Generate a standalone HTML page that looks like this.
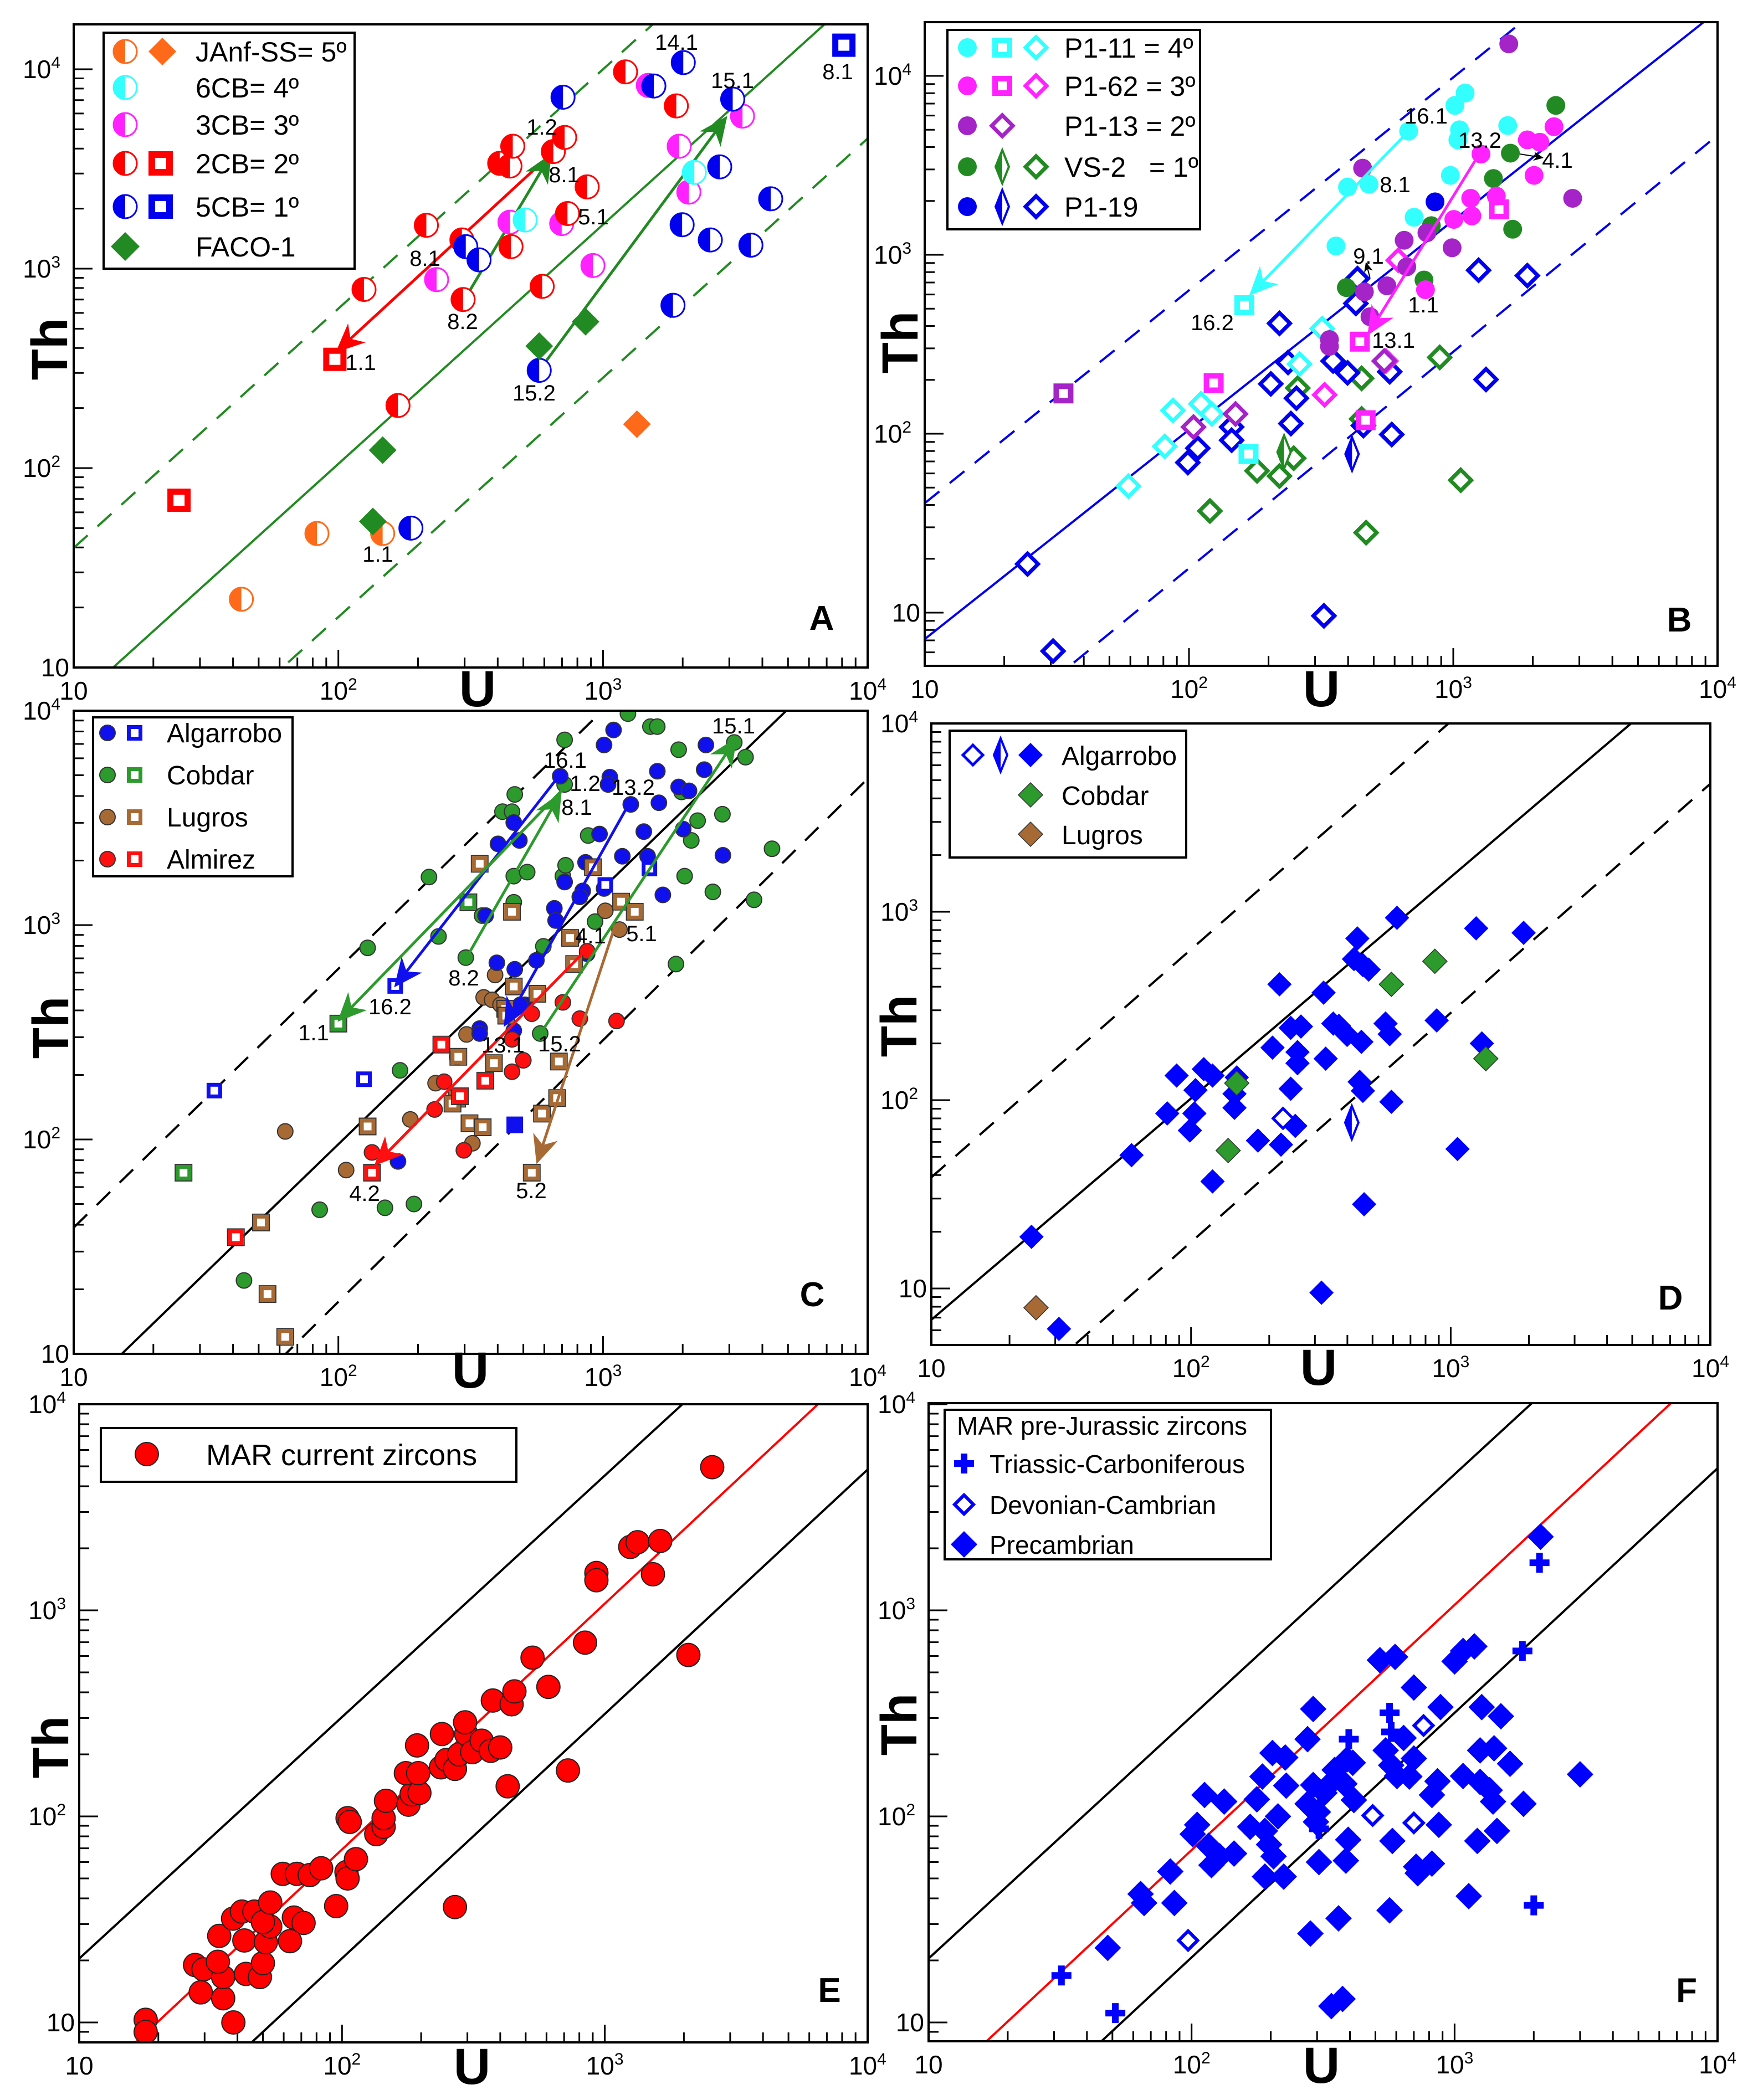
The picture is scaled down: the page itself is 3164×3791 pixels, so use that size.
<!DOCTYPE html>
<html><head><meta charset="utf-8"><style>
html,body{margin:0;padding:0;background:#fff}
svg{display:block}
text{font-family:"Liberation Sans",Arial,sans-serif}
</style></head><body>
<svg id="fig" xmlns="http://www.w3.org/2000/svg" width="3164" height="3791" viewBox="0 0 3164 3791">
<rect x="0" y="0" width="3164" height="3791" fill="#fff"/>
<defs id="defs"></defs>
</svg>
<script>
// ---------- Panel A data ----------
const aOrgHalfU=[83,147,43]; const aOrgHalfTh=[47,47,22];
const aOrgDiaU=[1343]; const aOrgDiaTh=[166];
const aCyanU=[508,2213]; const aCyanTh=[1754,3040];
const aMagU=[235,445,698,916,1483,1940,2110,3365]; const aMagTh=[881,1710,1683,1037,8300,4110,2420,5820];
const aRedU=[125,215,293,296,407,445,456,449,589,649,716,871,734,168,1216,1892];
const aRedTh=[787,1650,1393,700,3375,3270,4110,1290,815,3866,4550,2570,1890,206,9700,6550];
const aRedSqU=[97,25]; const aRedSqTh=[351,69];
const aBlueU=[706,2010,1556,3090,2760,1990,2543,3620,4300,1838,303,340,574,188];
const aBlueTh=[7240,10800,8240,7080,3240,1660,1393,1312,2240,655,1290,1107,309,50];
const aBlueSqU=[8130]; const aBlueSqTh=[13200];
const aFacoU=[574,859,147,135]; const aFacoTh=[409,542,123,54];
const aLineC=[2.51,0.418,0.0713]; const aLineK=[1.2,1.2,1.2];
const aArrFromU=[665,296,574]; const aArrFromTh=[3963,682,309];
const aArrToU=[99.5,631,2904]; const aArrToTh=[389,3673,5675];
// ---------- Panel B data ----------
const bCyanCU=[678,398,480,360,711,975,1014,1109,1056,1041,1607]; const bCyanCTh=[4910,2390,2480,1120,1622,2780,6840,8020,5000,4390,5280];
const bCyanSqU=[162,168]; const bCyanSqTh=[523,77];
const bCyanDU=[59,81,87,111,122,262,319]; const bCyanDTh=[51,85,135,147,129,245,387];
const bMagCU=[1164,1176,1005,1273,1455,1907,2126,2405,2022,785]; const bMagCTh=[2070,1650,1577,3656,2130,4390,4260,5200,2780,638];
const bMagSqU=[443,124,1490,466]; const bMagSqTh=[327,192,1795,119];
const bMagDU=[326,556,619]; const bMagDTh=[165,255,933];
const bPurCU=[1622,454,2830,990,795,652,667,561,461,484,340,340]; const bPurCTh=[15100,3050,2070,1095,1328,1206,857,671,621,451,336,308];
const bPurSqU=[33.5]; const bPurSqTh=[168];
const bPurDU=[104,150,548]; const bPurDTh=[109,129,255];
const bGrnCU=[2444,1645,1419,1678,826,775,394]; const bGrnCTh=[6840,3700,2670,1390,1455,723,656];
const bGrnThinU=[229]; const bGrnThinTh=[79];
const bGrnDU=[889,450,258,450,249,220,181,120,468,1067]; const bGrnDTh=[267,204,180,121,73,58,62,37,28,55];
const bBlueCU=[853]; const bBlueCTh=[1977];
const bBlueThinU=[414]; const bBlueThinTh=[77];
const bBlueDU=[24.5,30.6,324,220,434,428,1247,1907,1330,575,457,585,351,398,237,255,204,243,145,145,108,99];
const bBlueDTh=[18.7,6.1,9.6,414,736,535,820,765,201,222,111,99,255,219,250,158,190,114,109,92,83,69];
const bLineC=[2.64,0.481,0.0673]; const bLineK=[1.19,1.17,1.21];
const bArrFromU=[678,1268,484,1791]; const bArrFromTh=[4910,3758,745,3656];
const bArrToU=[172,480,468,2178]; const bArrToTh=[607,366,900,3490];
// ---------- Panel C data ----------
const cBlueCU=[689,1096,1009,1061,1045,1273,1604,1626,2411,2448,1931,2113,1426,1183,1474,970,859,2010,2838,1683,1009,838,817,716,655,662,871,771,483,460,401,360,560,464,397,507,487,342,342,460,168];
const cBlueCTh=[4950,8130,6920,4900,4530,3656,5220,3720,5310,6920,4410,4230,2729,2094,2094,2660,1962,2804,2117,1383,1482,1443,1354,1588,1197,1050,735,871,2483,3008,2393,1107,685,622,667,425,425,329,312,322,79];
const cBlueSqU=[164,34,125,1497,1020]; const cBlueSqTh=[520,169,191,1835,1539];
const cBlueFSqU=[464]; const cBlueFSqTh=[117];
const cGrnCU=[1242,1510,1603,716,1931,3133,3455,716,464,417,453,1981,2826,2277,2155,879,4350,220,460,517,705,722,2034,2600,3720,310,460,349,933,595,239,129,303,1886,579,171,85,150,193,44];
const cGrnCTh=[9690,8430,8430,7310,6580,7110,6070,4530,4070,3380,3380,4180,3290,3070,2483,2618,2270,1675,1692,1766,1692,1901,1692,1429,1312,1277,1277,1107,1038,796,885,783,705,658,312,210,47,48,50,22];
const cGrnSqU=[100,310,26]; const cGrnSqTh=[347,1277,70];
const cBrnCU=[391,354,381,410,305,281,233,187,321,63,107,1020,1154];
const cBrnCTh=[585,460,448,425,309,243,183,124,96,109,72,1166,953];
const cBrnSqU=[342,453,916,1170,1318,751,778,460,565,427,431,284,387,681,281,270,313,351,588,671,129,51,54,63,538];
const cBrnSqTh=[1932,1154,1862,1286,1154,871,658,517,478,407,378,243,227,231,155,147,119,114,132,156,115,41,19,12,70];
const cRedCU=[871,705,817,1125,500,453,453,538,251,231,298,134];
const cRedCTh=[755,436,366,357,234,207,293,386,186,138,89,87];
const cRedSqU=[245,359,288,134,41]; const cRedSqTh=[277,188,159,70,35];
const cLineC=[2.41,0.387,0.0635]; const cLineK=[1.207,1.195,1.22];
const cArrFromU=[671,705,305,1259,594,859,1096]; const cArrFromTh=[4842,4295,705,3715,326,762,944];
const cArrToU=[165,101,689,427,3162,139,565]; const cArrToTh=[525,362,4074,344,7311,77,79];
const cArrCol=['#1010ee','#2c9a2c','#2c9a2c','#1010ee','#2c9a2c','#ff1010','#a86a35'];
// ---------- Panel D data ----------
const dBlueU=[24.3,31,318,59,81,88,99,104,103,112,121,121,147,147,150,181,206,219,222,252,242,242,265,257,257,324,330,353,371,399,437,424,459,483,453,446,459,464,561,582,591,621,883,1062,1253,1318,1909];
const dBlueTh=[18.8,6.1,9.5,51,85,135,69,113,85,146,135,37,91,108,132,61,190,412,58,73,115,242,246,180,157,372,166,255,248,222,722,561,521,493,204,125,112,28,255,224,98,929,265,55,817,200,773];
const dOpenU=[226]; const dOpenTh=[80];
const dThinU=[416]; const dThinTh=[76];
const dGrnU=[150,139,591,869,1365]; const dGrnTh=[123,54,412,546,166];
const dBrnU=[25.3]; const dBrnTh=[7.9];
const dLineC=[2.40,0.456,0.0649]; const dLineK=[1.21,1.175,1.217];
// ---------- Panel E data ----------
const eU=[17.9,17.9,38.6,29,35.3,27.6,29.7,35.3,33.7,34.1,38.5,41.6,46.4,42.5,43.1,48.7,50,51.3,53.3,50,53.3,59.5,67.3,75.4,83.3,65.6,71.4,63.4,95,104,105,113,105,107,135,144,144,147,179,184,197,175,195,193,238,250,240,269,279,297,294,313,340,368,400,375,442,453,427,531,610,269,841,724,929,929,1250,1333,1625,1525,2080,2563];
const eTh=[10.3,9.0,10,14,13.1,19,18.1,16.6,19.7,26.3,31.9,34.5,34.5,25,17.2,16.6,19.4,24.5,29.2,30.7,38.2,52.6,52.6,51.9,56,32.3,30.4,24.8,36.7,53.7,50,62,98,94,82,89,98,119,114,128,130,162,162,221,173,188,251,170,200,251,286,205,233,208,216,365,350,404,140,589,425,36.3,697,167,1518,1400,2030,2140,2170,1496,607,4950];
const eLineC=[1.374,0.284,0.0869]; const eLineK=[1.172,1.193,1.186];
// ---------- Panel F data ----------
const fCrossU=[32,51.3,396,566,574,1811,2103,2000,305]; const fCrossTh=[16.9,11.1,237,318,257,635,1701,37,87];
const fOpenU=[97,488,700,762]; const fOpenTh=[25,101,93,276];
const fDiaU=[48,64,66,83,86,105,101,112,116,119,128,133,145,167,177,186,190,197,205,190,224,213,203,227,229,276,290,283,276,290,302,297,305,320,333,350,381,362,386,394,390,410,414,340,375,520,594,547,574,580,604,566,640,673,700,700,724,714,820,861,820,871,884,1000,1077,1189,1077,1132,1220,1250,1268,1250,1360,1400,1413,1449,1500,1625,1828,2123,3000];
const fDiaTh=[23,42,38,54,38,91,82,127,72,58,64,118,66,89,121,156,85,73,64,51,51,100,203,193,141,237,332,27,115,142,105,94,60,130,142,168,144,32,61,77,189,182,120,12,13,573,594,209,177,76,157,35,240,156,422,191,53,57,59,148,127,91,339,565,635,668,157,41,76,147,339,209,134,118,214,85,306,180,115,2275,160];
const fLineC=[1.365,0.286,0.0874]; const fLineK=[1.175,1.19,1.187];

// ---------- geometry ----------
const P={
 A:{x0:133,xd:477.7,y10:1205,yd:360,top:44,bot:1205,right:1566},
 B:{x0:1669,xd:477,y10:1106,yd:323,top:40,bot:1202,right:3100},
 C:{x0:133,xd:477.7,y10:2444,yd:387,top:1283,bot:2444,right:1566},
 D:{x0:1681,xd:468.7,y10:2326,yd:340,top:1306,bot:2428,right:3087},
 E:{x0:143,xd:474.3,y10:3651,yd:372,top:2535,bot:3687,right:1566},
 F:{x0:1676,xd:474.7,y10:3651,yd:372,top:2533,bot:3685,right:3100}};
const NS='http://www.w3.org/2000/svg';
const svg=document.getElementById('fig');
const defs=document.getElementById('defs');
function X(p,u){return p.x0+(Math.log10(u)-1)*p.xd;}
function Y(p,t){return p.y10-(Math.log10(t)-1)*p.yd;}
function mk(tag,attrs,parent){const e=document.createElementNS(NS,tag);for(const k in attrs)e.setAttribute(k,attrs[k]);(parent||svg).appendChild(e);return e;}
function nm(el,name){
 
 
 return el;}
function grp(name,parent){const g=mk('g',{},parent);nm(g,name);return g;}

function halfCircle(g,x,y,r,c){const s=mk('g',{},g);mk('circle',{cx:x,cy:y,r:r,fill:'#fff',stroke:c,'stroke-width':3},s);mk('path',{d:`M${x},${y-r} A${r},${r} 0 0 0 ${x},${y+r} Z`,fill:c},s);return s;}
function circ(g,x,y,r,c,o){return mk('circle',{cx:x,cy:y,r:r,fill:c,stroke:o||'none','stroke-width':o?2:0},g);}
function sq(g,x,y,s,c,sw,o){const q=mk('g',{},g);if(o)mk('rect',{x:x-s/2-1,y:y-s/2-1,width:s+2,height:s+2,fill:'none',stroke:o,'stroke-width':2},q);mk('rect',{x:x-s/2+sw/2,y:y-s/2+sw/2,width:s-sw,height:s-sw,fill:'#fff',stroke:c,'stroke-width':sw},q);return q;}
function fsq(g,x,y,s,c){return mk('rect',{x:x-s/2,y:y-s/2,width:s,height:s,fill:c},g);}
function dia(g,x,y,h,fill,stroke,sw){return mk('path',{d:`M${x},${y-h} L${x+h},${y} L${x},${y+h} L${x-h},${y} Z`,fill:fill,stroke:stroke||'none','stroke-width':sw||0,'stroke-linejoin':'miter'},g);}
function thinDia(g,x,y,c){const s=mk('g',{},g);mk('path',{d:`M${x},${y-30} L${x+12},${y} L${x},${y+30} L${x-12},${y} Z`,fill:'#fff',stroke:c,'stroke-width':4},s);mk('path',{d:`M${x},${y-30} L${x},${y+30} L${x-12},${y} Z`,fill:c},s);return s;}
function cross(g,x,y,c){const s=mk('g',{},g);mk('rect',{x:x-18,y:y-6,width:36,height:12,fill:c},s);mk('rect',{x:x-6,y:y-18,width:12,height:36,fill:c},s);return s;}
const ARR={};
function arrowMarker(c){if(ARR[c])return ARR[c];const id='ar'+Object.keys(ARR).length;const sz=c==='#000'?18:52;const m=mk('marker',{id:id,viewBox:'0 0 20 20',refX:18,refY:10,markerWidth:sz,markerHeight:sz,markerUnits:'userSpaceOnUse',orient:'auto'},defs);mk('path',{d:'M0,1 L20,10 L0,19 L6,10 Z',fill:c},m);ARR[c]=id;return id;}

function frame(key,name){
 const p=P[key];const g=grp(name);
 const clip=mk('clipPath',{id:'clip'+key},defs);mk('rect',{x:p.x0,y:p.top,width:p.right-p.x0,height:p.bot-p.top},clip);
 const ax=grp('x-axis-ticks',g);
 for(let d=1;d<=3;d++)for(let m=1;m<=9;m++){const x=X(p,m*Math.pow(10,d));const L=m===1?32:18;mk('line',{x1:x,y1:p.bot,x2:x,y2:p.bot-L,stroke:'#000','stroke-width':3},ax);}
 const ay=grp('y-axis-ticks',g);
 for(let d=0;d<=4;d++)for(let m=1;m<=9;m++){const v=m*Math.pow(10,d);const y=Y(p,v);if(y<p.top-1||y>p.bot+1)continue;const L=m===1?34:18;mk('line',{x1:p.x0,y1:y,x2:p.x0+L,y2:y,stroke:'#000','stroke-width':3},ay);}
 const xl=grp('x-tick-labels',g);
 const sup=['','','2','3','4'];
 for(let d=1;d<=4;d++){const t=mk('text',{x:X(p,Math.pow(10,d)),y:p.bot+58,'font-size':46,'text-anchor':'middle',fill:'#000'},xl);t.textContent='10';if(sup[d]){const s=mk('tspan',{dy:-18,'font-size':30},t);s.textContent=sup[d];}}
 const yl=grp('y-tick-labels',g);
 for(let d=1;d<=4;d++){const y=Y(p,Math.pow(10,d));const t=mk('text',{x:p.x0-(sup[d]?24:8),y:y+16,'font-size':46,'text-anchor':'end',fill:'#000'},yl);t.textContent='10';if(sup[d]){const s=mk('tspan',{dy:-18,'font-size':30},t);s.textContent=sup[d];}}
 const data=mk('g',{'clip-path':`url(#clip${key})`},g);nm(data,'plot-area');
 const box=mk('rect',{x:p.x0,y:p.top,width:p.right-p.x0,height:p.bot-p.top,fill:'none',stroke:'#000','stroke-width':4},g);nm(box,'plot-frame');
 return {g:g,data:data,p:p};
}
function refLines(F,cs,ks,cols,dashes,name){
 const p=F.p;const g=grp(name,F.data);
 for(let i=0;i<cs.length;i++){const u1=10,u2=1e4;const l=mk('line',{x1:X(p,u1),y1:Y(p,cs[i]*Math.pow(u1,ks[i])),x2:X(p,u2),y2:Y(p,cs[i]*Math.pow(u2,ks[i])),stroke:cols[i],'stroke-width':4,'stroke-dasharray':dashes[i]||'none'},g);nm(l,'reference-line-'+(i+1));}
}
function arrows(F,fu,ft,tu,tt,cols,name){
 const p=F.p;const g=grp(name,F.data);
 for(let i=0;i<fu.length;i++){const c=cols[i];const l=mk('line',{x1:X(p,fu[i]),y1:Y(p,ft[i]),x2:X(p,tu[i]),y2:Y(p,tt[i]),stroke:c,'stroke-width':c==='#000'?2:5,'marker-end':`url(#${arrowMarker(c)})`},g);nm(l,'arrow-'+(i+1));}
}
function series(F,us,ts,fn,name){
 const p=F.p;const g=grp(name,F.data);
 for(let i=0;i<us.length;i++){const el=fn(g,X(p,us[i]),Y(p,ts[i]));nm(el,name+'-point');}
}
function labels(g,list,size){const lg=grp('point-labels',g);for(const [s,x,y] of list){const t=mk('text',{x:x,y:y+14,'font-size':size||40,'text-anchor':'middle',fill:'#000'},lg);t.textContent=s;nm(t,'point-label');}}
function txt(g,s,x,y,size,attrs,name){const t=mk('text',Object.assign({x:x,y:y,'font-size':size,fill:'#000'},attrs||{}),g);t.textContent=s;nm(t,name);return t;}
function axisTitles(F,thx,thy,ux,uy,letter,lx,ly){
 const g=F.g;
 txt(g,'Th',thx,thy,92,{'font-weight':'bold','text-anchor':'middle',transform:`rotate(-90 ${thx} ${thy})`,'dominant-baseline':'central'},'y-axis-title');
 txt(g,'U',ux,uy,92,{'font-weight':'bold','text-anchor':'middle'},'x-axis-title');
 txt(g,letter,lx,ly,62,{'font-weight':'bold','text-anchor':'middle'},'panel-letter');
}
function legendBox(g,x,y,w,h){const r=mk('rect',{x:x,y:y,width:w,height:h,fill:'#fff',stroke:'#000','stroke-width':4},g);nm(r,'legend-frame');}

const OR='#ff6a1a',CY='#33ffff',MG='#ff22ff',RD='#ff0000',BL='#0000ee',GN='#228a22',PU='#a424c8',BR='#a86a35',GC='#2c9a2c';

// ===== Panel A =====
(function(){
 const F=frame('A','panel-a');
 refLines(F,aLineC,aLineK,[GN,GN,GN],['34 24','none','34 24'],'reference-lines');
 arrows(F,aArrFromU,aArrFromTh,aArrToU,aArrToTh,[RD,GN,GN],'arrows');
 series(F,aOrgHalfU,aOrgHalfTh,(g,x,y)=>halfCircle(g,x,y,21,OR),'janf-half');
 series(F,aOrgDiaU,aOrgDiaTh,(g,x,y)=>dia(g,x,y,25,OR),'janf-diamond');
 series(F,aMagU,aMagTh,(g,x,y)=>halfCircle(g,x,y,21,MG),'cb3-half');
 series(F,aRedU,aRedTh,(g,x,y)=>halfCircle(g,x,y,21,RD),'cb2-half');
 series(F,aCyanU,aCyanTh,(g,x,y)=>halfCircle(g,x,y,21,CY),'cb6-half');
 series(F,aBlueU,aBlueTh,(g,x,y)=>halfCircle(g,x,y,21,BL),'cb5-half');
 series(F,aRedSqU,aRedSqTh,(g,x,y)=>sq(g,x,y,42,RD,11),'cb2-square');
 series(F,aBlueSqU,aBlueSqTh,(g,x,y)=>sq(g,x,y,42,BL,11),'cb5-square');
 series(F,aFacoU,aFacoTh,(g,x,y)=>dia(g,x,y,25,GN),'faco-diamond');
 labels(F.g,[['1.2',978,229],['8.1',1018,315],['8.1',767,466],['8.2',835,580],['1.1',651,654],['5.1',1071,391],['15.2',964,709],['1.1',682,1000],['14.1',1221,76],['15.1',1322,145],['8.1',1512,129]]);
 const L=grp('legend',F.g);legendBox(L,187,59,453,426);
 const rows=[93,158,225,295,373,445];
 halfCircle(L,226,rows[0],21,OR);dia(L,293,rows[0],25,OR);
 halfCircle(L,226,rows[1],21,CY);halfCircle(L,226,rows[2],21,MG);
 halfCircle(L,226,rows[3],21,RD);sq(L,290,rows[3],44,RD,12);
 halfCircle(L,226,rows[4],21,BL);sq(L,290,rows[4],44,BL,12);
 dia(L,226,rows[5],26,GN);
 const lt=['JAnf-SS= 5º','6CB= 4º','3CB= 3º','2CB= 2º','5CB= 1º','FACO-1'];
 lt.forEach((s,i)=>txt(L,s,353,rows[i]+18,50,{},'legend-entry'));
 axisTitles(F,90,630,862,1275,'A',1483,1137);
})();

// ===== Panel B =====
(function(){
 const F=frame('B','panel-b');
 refLines(F,bLineC,bLineK,[BL,BL,BL],['34 24','none','34 24'],'reference-lines');
 series(F,bGrnDU,bGrnDTh,(g,x,y)=>dia(g,x,y,19,'#fff',GN,7),'vs2-open-diamond');
 series(F,bGrnThinU,bGrnThinTh,(g,x,y)=>thinDia(g,x,y,GN),'vs2-thin-diamond');
 series(F,bBlueDU,bBlueDTh,(g,x,y)=>dia(g,x,y,19,'#fff',BL,7),'p119-open-diamond');
 series(F,bBlueThinU,bBlueThinTh,(g,x,y)=>thinDia(g,x,y,BL),'p119-thin-diamond');
 series(F,bCyanDU,bCyanDTh,(g,x,y)=>dia(g,x,y,19,'#fff',CY,7),'p111-open-diamond');
 series(F,bMagDU,bMagDTh,(g,x,y)=>dia(g,x,y,19,'#fff',MG,7),'p162-open-diamond');
 series(F,bPurDU,bPurDTh,(g,x,y)=>dia(g,x,y,19,'#fff',PU,7),'p113-open-diamond');
 series(F,bCyanSqU,bCyanSqTh,(g,x,y)=>sq(g,x,y,36,CY,10),'p111-square');
 series(F,bMagSqU,bMagSqTh,(g,x,y)=>sq(g,x,y,36,MG,10),'p162-square');
 series(F,bPurSqU,bPurSqTh,(g,x,y)=>sq(g,x,y,36,PU,10),'p113-square');
 series(F,bGrnCU,bGrnCTh,(g,x,y)=>circ(g,x,y,17,GN),'vs2-circle');
 series(F,bPurCU,bPurCTh,(g,x,y)=>circ(g,x,y,17,PU),'p113-circle');
 series(F,bMagCU,bMagCTh,(g,x,y)=>circ(g,x,y,17,MG),'p162-circle');
 series(F,bCyanCU,bCyanCTh,(g,x,y)=>circ(g,x,y,17,CY),'p111-circle');
 series(F,bBlueCU,bBlueCTh,(g,x,y)=>circ(g,x,y,17,BL),'p119-circle');
 arrows(F,bArrFromU,bArrFromTh,bArrToU,bArrToTh,[CY,MG,'#000','#000'],'arrows');
 labels(F.g,[['16.1',2574,209],['8.1',2518,333],['13.2',2671,253],['4.1',2811,289],['9.1',2470,462],['1.1',2569,550],['16.2',2188,582],['13.1',2515,614]]);
 const L=grp('legend',F.g);legendBox(L,1710,54,456,360);
 const rows=[86,155,227,301,373];const c1=1746,c2=1809,c3=1870;
 circ(L,c1,rows[0],17,CY);sq(L,c2,rows[0],36,CY,10);dia(L,c3,rows[0],19,'#fff',CY,7);
 circ(L,c1,rows[1],17,MG);sq(L,c2,rows[1],36,MG,10);dia(L,c3,rows[1],19,'#fff',MG,7);
 circ(L,c1,rows[2],17,PU);dia(L,c2,rows[2],19,'#fff',PU,7);
 circ(L,c1,rows[3],17,GN);thinDia(L,c2,rows[3],GN);dia(L,c3,rows[3],19,'#fff',GN,7);
 circ(L,c1,rows[4],17,BL);thinDia(L,c2,rows[4],BL);dia(L,c3,rows[4],19,'#fff',BL,7);
 ['P1-11 = 4º','P1-62 = 3º','P1-13 = 2º','VS-2   = 1º','P1-19'].forEach((s,i)=>{const t=txt(L,s,1921,rows[i]+18,50,{},'legend-entry');t.setAttribute('xml:space','preserve');t.style.whiteSpace='pre';});
 axisTitles(F,1625,618,2385,1275,'B',3031,1140);
})();

// ===== Panel C =====
(function(){
 const F=frame('C','panel-c');
 refLines(F,cLineC,cLineK,['#000','#000','#000'],['34 24','none','34 24'],'reference-lines');
 const O='#333';
 series(F,cGrnCU,cGrnCTh,(g,x,y)=>circ(g,x,y,14,GC,O),'cobdar-circle');
 series(F,cBrnCU,cBrnCTh,(g,x,y)=>circ(g,x,y,14,BR,O),'lugros-circle');
 series(F,cBlueCU,cBlueCTh,(g,x,y)=>circ(g,x,y,14,'#1010ee',O),'algarrobo-circle');
 series(F,cRedCU,cRedCTh,(g,x,y)=>circ(g,x,y,14,'#ff1010',O),'almirez-circle');
 series(F,cBrnSqU,cBrnSqTh,(g,x,y)=>sq(g,x,y,28,BR,7,'#333'),'lugros-square');
 series(F,cRedSqU,cRedSqTh,(g,x,y)=>sq(g,x,y,28,'#ff1010',7,'#333'),'almirez-square');
 series(F,cGrnSqU,cGrnSqTh,(g,x,y)=>sq(g,x,y,28,GC,7,'#333'),'cobdar-square');
 series(F,cBlueSqU,cBlueSqTh,(g,x,y)=>sq(g,x,y,28,'#1010ee',7),'algarrobo-square');
 series(F,cBlueFSqU,cBlueFSqTh,(g,x,y)=>fsq(g,x,y,30,'#1010ee'),'algarrobo-filled-square');
 arrows(F,cArrFromU,cArrFromTh,cArrToU,cArrToTh,cArrCol,'arrows');
 labels(F.g,[['16.1',1020,1372],['1.2',1056,1414],['13.2',1143,1421],['8.1',1041,1457],['15.1',1324,1310],['4.1',1066,1689],['5.1',1158,1685],['8.2',837,1765],['16.2',704,1817],['1.1',566,1864],['13.1',908,1886],['15.2',1010,1884],['4.2',658,2154],['5.2',959,2149]]);
 const L=grp('legend',F.g);legendBox(L,168,1295,360,287);
 const rows=[1323,1399,1475,1551];const cols=['#1010ee',GC,BR,'#ff1010'];
 ['Algarrobo','Cobdar','Lugros','Almirez'].forEach((s,i)=>{circ(L,194,rows[i],14,cols[i],'#333');sq(L,243,rows[i],28,cols[i],7);txt(L,s,301,rows[i]+17,48,{},'legend-entry');});
 axisTitles(F,92,1855,849,2505,'C',1466,2358);
})();

// ===== Panel D =====
(function(){
 const F=frame('D','panel-d');
 refLines(F,dLineC,dLineK,['#000','#000','#000'],['34 24','none','34 24'],'reference-lines');
 series(F,dBlueU,dBlueTh,(g,x,y)=>dia(g,x,y,22,'#0000ff'),'algarrobo-diamond');
 series(F,dOpenU,dOpenTh,(g,x,y)=>dia(g,x,y,18,'#fff','#0000ff',5),'algarrobo-open-diamond');
 series(F,dThinU,dThinTh,(g,x,y)=>thinDia(g,x,y,'#0000ff'),'algarrobo-thin-diamond');
 series(F,dGrnU,dGrnTh,(g,x,y)=>dia(g,x,y,22,GC,'#333',1.5),'cobdar-diamond');
 series(F,dBrnU,dBrnTh,(g,x,y)=>dia(g,x,y,22,BR,'#333',1.5),'lugros-diamond');
 const L=grp('legend',F.g);legendBox(L,1714,1319,427,229);
 dia(L,1756,1363,18,'#fff','#0000ff',5);thinDia(L,1806,1363,'#0000ff');dia(L,1860,1363,22,'#0000ff');
 dia(L,1860,1435,22,GC,'#333',1.5);dia(L,1860,1506,22,BR,'#333',1.5);
 txt(L,'Algarrobo',1916,1381,48,{},'legend-entry');txt(L,'Cobdar',1916,1453,48,{},'legend-entry');txt(L,'Lugros',1916,1524,48,{},'legend-entry');
 axisTitles(F,1623,1852,2380,2500,'D',3015,2364);
})();

// ===== Panel E =====
(function(){
 const F=frame('E','panel-e');
 refLines(F,eLineC,eLineK,['#000','#f00','#000'],['none','none','none'],'reference-lines');
 series(F,eU,eTh,(g,x,y)=>circ(g,x,y,21,'#ff0000','#222'),'mar-current-zircon');
 const L=grp('legend',F.g);legendBox(L,182,2578,750,97);
 circ(L,265,2625,21,'#ff0000','#222');txt(L,'MAR current zircons',372,2645,54,{},'legend-entry');
 axisTitles(F,92,3154,852,3762,'E',1497,3614);
})();

// ===== Panel F =====
(function(){
 const F=frame('F','panel-f');
 refLines(F,fLineC,fLineK,['#000','#f00','#000'],['none','none','none'],'reference-lines');
 series(F,fDiaU,fDiaTh,(g,x,y)=>dia(g,x,y,24,'#0000ff'),'precambrian-diamond');
 series(F,fOpenU,fOpenTh,(g,x,y)=>dia(g,x,y,17,'#fff','#0000ff',6),'devonian-cambrian-diamond');
 series(F,fCrossU,fCrossTh,(g,x,y)=>cross(g,x,y,'#0000ff'),'triassic-carboniferous-cross');
 const L=grp('legend',F.g);legendBox(L,1705,2545,589,270);
 txt(L,'MAR pre-Jurassic zircons',1727,2590,46,{},'legend-title');
 cross(L,1740,2642,'#0000ff');dia(L,1740,2716,17,'#fff','#0000ff',6);dia(L,1740,2788,24,'#0000ff');
 txt(L,'Triassic-Carboniferous',1786,2659,46,{},'legend-entry');
 txt(L,'Devonian-Cambrian',1786,2733,46,{},'legend-entry');
 txt(L,'Precambrian',1786,2805,46,{},'legend-entry');
 axisTitles(F,1623,3113,2385,3760,'F',3044,3614);
})();
</script>
</body></html>
